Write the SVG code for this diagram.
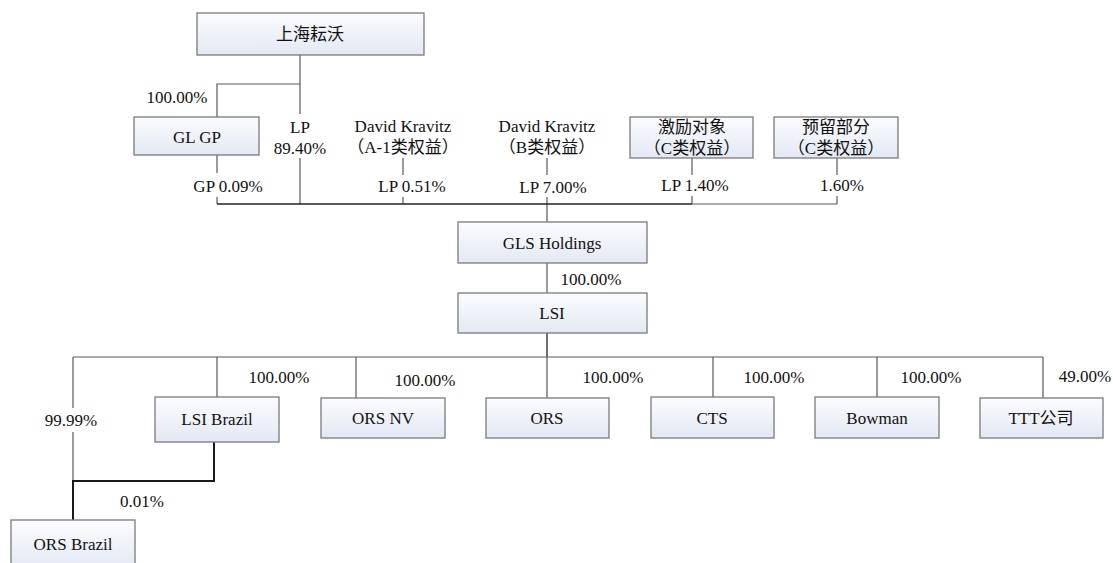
<svg xmlns="http://www.w3.org/2000/svg" width="1113" height="563" viewBox="0 0 1113 563">
<defs>
<linearGradient id="bg" x1="0" y1="0" x2="0" y2="1">
<stop offset="0" stop-color="#fbfcfe"/>
<stop offset="1" stop-color="#e3e8f3"/>
</linearGradient>
</defs>
<style>
.box{fill:url(#bg);stroke:#7a7a7a;stroke-width:1.3}
.t{font-family:'Liberation Serif','Times New Roman',Tinos,'DejaVu Serif','Noto Sans CJK SC',serif;font-size:17px;fill:#111;text-anchor:middle;dominant-baseline:central}
.ln{stroke:#5a5a5a;stroke-width:1.2;fill:none}
.dk{stroke:#222;stroke-width:1.3;fill:none}
.bold{stroke:#1a1a1a;stroke-width:2;fill:none}
</style>
<rect width="1113" height="563" fill="#fff"/>
<g id="connectors">
<path class="ln" d="M300 55V84H217V117"/>
<path class="ln" d="M300 84V114M300 158V204"/>
<path class="ln" d="M217 155V173M217 197V204"/>
<path class="ln" d="M403 158V175M403 197V204"/>
<path class="ln" d="M547 158V175M547 197V222"/>
<path class="ln" d="M692 158V175M692 196V204"/>
<path class="ln" d="M837 158V175M837 196V204"/>
<path class="dk" d="M217 204H692"/>
<path class="ln" d="M692 204H837"/>
<path class="ln" d="M547 263V293"/>
<path class="dk" d="M547 333V357"/>
<path class="ln" d="M73 357H1043"/>
<path class="ln" d="M217 357V397M356 357V398M547 357V398M713 357V397M877 357V397M1043 357V398"/>
<path class="ln" d="M73 357V408M73 432V481"/>
<path class="bold" d="M214 442V481H73V520"/>
</g>
<g id="n-shanghai"><rect class="box" x="197" y="13" width="227" height="42"/><text class="t" x="310" y="34">上海耘沃</text></g>
<g id="n-glgp"><rect class="box" x="134" y="117" width="125" height="38"/><text class="t" x="197" y="137">GL GP</text></g>
<g id="n-dk-a1"><text class="t" x="403" y="126">David Kravitz</text><text class="t" x="403" y="147">（A-1类权益）</text></g>
<g id="n-dk-b"><text class="t" x="547" y="126">David Kravitz</text><text class="t" x="547" y="147">（B类权益）</text></g>
<g id="n-jili"><rect class="box" x="630" y="117" width="123" height="41"/><text class="t" x="692" y="127">激励对象</text><text class="t" x="692" y="148">（C类权益）</text></g>
<g id="n-yuliu"><rect class="box" x="774" y="117" width="124" height="41"/><text class="t" x="836" y="127">预留部分</text><text class="t" x="836" y="148">（C类权益）</text></g>
<g id="n-gls"><rect class="box" x="458" y="222" width="189" height="41"/><text class="t" x="552" y="243">GLS Holdings</text></g>
<g id="n-lsi"><rect class="box" x="458" y="293" width="189" height="40"/><text class="t" x="552" y="313">LSI</text></g>
<g id="n-lsibrazil"><rect class="box" x="155" y="397" width="124" height="45"/><text class="t" x="217" y="419">LSI Brazil</text></g>
<g id="n-orsnv"><rect class="box" x="321" y="398" width="124" height="40"/><text class="t" x="383" y="418">ORS NV</text></g>
<g id="n-ors"><rect class="box" x="486" y="398" width="123" height="40"/><text class="t" x="547" y="418">ORS</text></g>
<g id="n-cts"><rect class="box" x="651" y="397" width="123" height="41"/><text class="t" x="712" y="418">CTS</text></g>
<g id="n-bowman"><rect class="box" x="815" y="397" width="124" height="41"/><text class="t" x="877" y="418">Bowman</text></g>
<g id="n-ttt"><rect class="box" x="980" y="398" width="123" height="40"/><text class="t" x="1041" y="418">TTT公司</text></g>
<g id="n-orsbrazil"><rect class="box" x="11" y="520" width="124" height="50"/><text class="t" x="73" y="544">ORS Brazil</text></g>
<g id="labels">
<text class="t" x="177" y="97">100.00%</text>
<text class="t" x="300" y="127">LP</text>
<text class="t" x="300" y="148">89.40%</text>
<text class="t" x="228" y="186">GP 0.09%</text>
<text class="t" x="412" y="186">LP 0.51%</text>
<text class="t" x="553" y="187">LP 7.00%</text>
<text class="t" x="695" y="185">LP 1.40%</text>
<text class="t" x="842" y="185">1.60%</text>
<text class="t" x="591" y="279">100.00%</text>
<text class="t" x="279" y="377">100.00%</text>
<text class="t" x="425" y="380">100.00%</text>
<text class="t" x="613" y="377">100.00%</text>
<text class="t" x="774" y="377">100.00%</text>
<text class="t" x="931" y="377">100.00%</text>
<text class="t" x="1085" y="376">49.00%</text>
<text class="t" x="71" y="420">99.99%</text>
<text class="t" x="142" y="501">0.01%</text>
</g>
</svg>
